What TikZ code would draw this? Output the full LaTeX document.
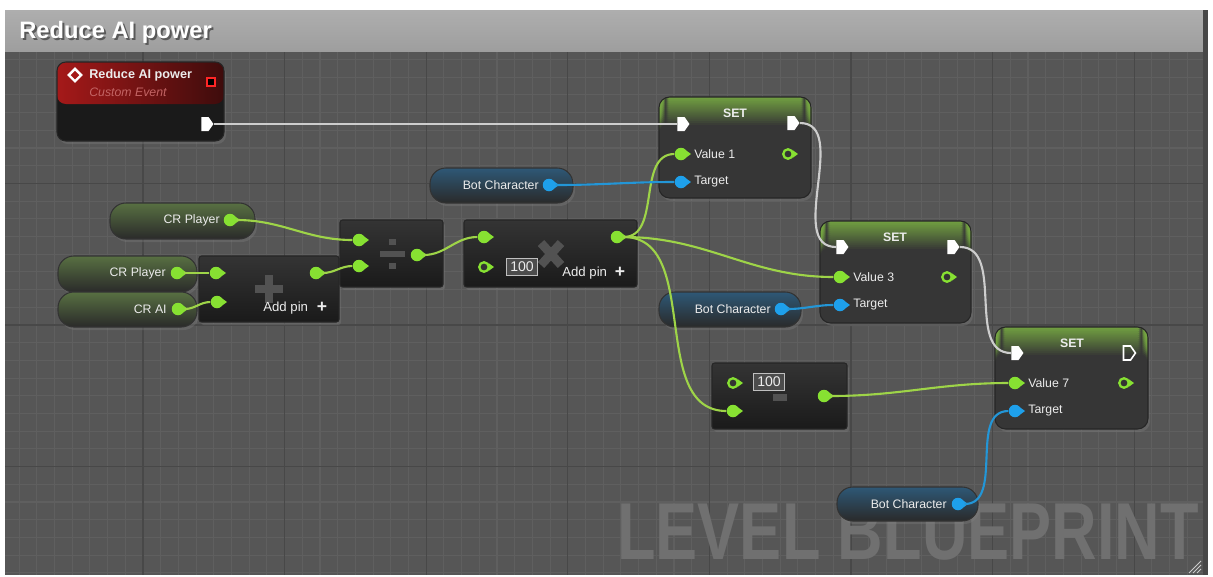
\documentclass[tikz,border=0pt]{standalone}
\usepackage{fontspec}
\setmainfont{Liberation Sans}
\newfontfamily\markfont[FakeStretch=0.78]{Liberation Sans}
\usepackage{tikz}
\usetikzlibrary{arrows.meta,
positioning,
fit,
shapes.geometric,
shapes.symbols,
shadows,
calc}

\definecolor{gridbg}{RGB}{86,86,86}
\definecolor{gridminor}{RGB}{95,95,95}
\definecolor{gridmajor}{RGB}{72,72,72}
\definecolor{titletop}{RGB}{174,174,174}
\definecolor{titlebot}{RGB}{158,158,158}
\definecolor{fngreen}{RGB}{135,225,50}
\definecolor{wiregreen}{RGB}{158,212,72}
\definecolor{pinblue}{RGB}{30,160,235}
\definecolor{wireblue}{RGB}{35,150,215}
\definecolor{execwire}{RGB}{205,205,205}
\definecolor{nodedark}{RGB}{26,26,26}
\definecolor{nodemid}{RGB}{52,52,52}
\definecolor{setbody}{RGB}{54,54,54}
\definecolor{setgreen}{RGB}{118,168,66}
\definecolor{evred}{RGB}{165,25,25}
\definecolor{evdark}{RGB}{62,12,12}
\definecolor{evtext}{RGB}{195,100,100}
\definecolor{pillgray}{RGB}{42,42,42}
\definecolor{pillgreen}{RGB}{88,112,66}
\definecolor{pillblue}{RGB}{46,88,118}
\definecolor{fnicon}{RGB}{82,82,82}
\definecolor{marktext}{RGB}{112,112,112}
\definecolor{labeltext}{RGB}{236,236,236}

\begin{document}
\begin{tikzpicture}[
x=0.02cm, y=-0.02cm,
fnbox/.style={
rectangle,
inner sep=0,
draw=black!85,
line width=0.6pt,
top color=nodemid,
bottom color=nodedark,
rounded corners=1.5pt,
drop shadow={opacity=0.35, shadow xshift=0.04cm, shadow yshift=-0.06cm}
},
setbox/.style={
rectangle,
inner sep=0,
draw=black!85,
line width=0.6pt,
fill=setbody,
rounded corners=6pt,
drop shadow={opacity=0.35, shadow xshift=0.04cm, shadow yshift=-0.06cm},
path picture={
\foreach \i [evaluate=\i as \op using {0.9-0.064*\i}] in {0,...,13}
\fill[setgreen, opacity=\op]
([yshift={-0.04cm*\i}]path picture bounding box.north west) rectangle
([yshift={-0.04cm*(\i+1)}]path picture bounding box.north east);}
},
evbox/.style={
rectangle,
inner sep=0,
draw=black!85,
line width=0.6pt,
fill=nodedark,
rounded corners=5pt,
drop shadow={opacity=0.35, shadow xshift=0.04cm, shadow yshift=-0.06cm},
path picture={\shade[left color=evred, right color=evdark]
(path picture bounding box.north west) rectangle
([yshift=-0.84cm]path picture bounding box.north east);}
},
pill/.style={
rectangle,
inner sep=0,
draw=black!80,
line width=0.6pt,
rounded corners=9pt,
drop shadow={opacity=0.35, shadow xshift=0.04cm, shadow yshift=-0.06cm}
},
fpill/.style={pill, top color=pillgreen, bottom color=pillgray},
opill/.style={pill, top color=pillblue, bottom color=pillgray},
fpin/.style={circle, fill=fngreen, inner sep=0, minimum size=0.25cm},
hpin/.style={circle, fill=black!80, draw=fngreen, line width=1.3pt, inner sep=0, minimum size=0.19cm},
opin/.style={circle, fill=pinblue, inner sep=0, minimum size=0.25cm},
execpin/.style={signal, signal to=east, signal pointer angle=110, fill=white,
inner sep=0, minimum width=0.24cm, minimum height=0.28cm},
hexec/.style={execpin, fill=none, draw=white, line width=0.9pt},
lbl/.style={font=\fontsize{7}{8}\selectfont, text=labeltext, inner sep=0},
valbox/.style={draw=white!75!black, fill=black!70, line width=0.6pt, inner sep=2.2pt,
font=\fontsize{8}{9}\selectfont, text=labeltext},
gwire/.style={draw=wiregreen, line width=1.2pt},
bwire/.style={draw=wireblue, line width=1.2pt},
ewire/.style={draw=execwire, line width=1.2pt}
]

% Frame and grid
\fill[white] (0,0) rectangle (1213,576);
\useasboundingbox (0,0) rectangle (1213,576);
\fill[gridbg] (5,51) rectangle (1203,575);
\begin{scope}
\clip (5,51) rectangle (1203,575);
\foreach \k in {1,...,67}
\draw[gridminor, line width=0.6pt] ({1.4+17.7*\k},51) -- ({1.4+17.7*\k},575);
\foreach \k in {3,...,32}
\draw[gridminor, line width=0.6pt] (5,{6.4+17.7*\k}) -- (1203,{6.4+17.7*\k});
\foreach \k in {0,...,7}
\draw[gridmajor, line width=0.7pt] ({143+141.6*\k},51) -- ({143+141.6*\k},575);
\foreach \k in {1,2,3}
\draw[gridmajor, line width=0.7pt] (5,{41.8+141.6*\k}) -- (1203,{41.8+141.6*\k});
\end{scope}

% Title bar
\shade[top color=titletop, bottom color=titlebot] (5,10) rectangle (1203,51);
\fill[black!72] (1203,10) rectangle (1208,575);
\node[anchor=west, inner sep=0, font=\bfseries\fontsize{13.5}{14}\selectfont, text=black!65]
(titleshade) at (21,34) {Reduce AI power};
\node[anchor=west, inner sep=0, font=\bfseries\fontsize{13.5}{14}\selectfont, text=white]
(title) at (19,32) {Reduce AI power};
\foreach \d in {4,8,12}
\draw[white!60!gray, line width=0.5pt] ({1201-\d},573) -- (1201,{573-\d});

% Watermark
\node[anchor=south west, inner sep=0, font=\markfont\bfseries\fontsize{46}{46}\selectfont,
text=marktext] (watermark) at (617,561) {LEVEL BLUEPRINT};

% Event
\node[evbox, fit={(57,62) (224,141)}] (event) {};
\node[diamond, draw=white, line width=1.4pt, fill=evred, inner sep=0, minimum size=0.27cm]
(evicon) at (75,75) {};
\node[lbl, anchor=west, font=\bfseries\fontsize{7.2}{8}\selectfont] (evname) at (89,75) {Reduce AI power};
\node[lbl, anchor=west, font=\itshape\fontsize{7}{8}\selectfont, text=evtext] (evkind) at (89,92) {Custom Event};
\node[rectangle, draw=red!85!white, fill=black, line width=1.2pt, inner sep=0, minimum size=0.17cm]
(evdel) at (211,82) {};
\node[execpin] (evout) at (205,124) {};

% Variables
\node[fpill, fit={(110,203) (255,239)}] (crp1) {};
\node[lbl, anchor=east] at (220,220) {CR Player};
\node[fpin] (crp1pin) at (230,220) {};

\node[fpill, fit={(58,256) (197,292)}] (crp2) {};
\node[lbl, anchor=east] at (166,273) {CR Player};
\node[fpin] (crp2pin) at (177,273) {};

\node[fpill, fit={(58,292) (197,327)}] (crai) {};
\node[lbl, anchor=east] at (167,309) {CR AI};
\node[fpin] (craipin) at (178,309) {};

\node[opill, fit={(430,168) (573,203)}] (bot1) {};
\node[lbl, anchor=east] at (539,185) {Bot Character};
\node[opin] (bot1pin) at (549,185) {};

\node[opill, fit={(659,292) (801,327)}] (bot2) {};
\node[lbl, anchor=east] at (771,309) {Bot Character};
\node[opin] (bot2pin) at (781,309) {};

\node[opill, fit={(837,487) (978,521)}] (bot3) {};
\node[lbl, anchor=east] at (947,504) {Bot Character};
\node[opin] (bot3pin) at (958,504) {};

% Math
\node[fnbox, fit={(199,256) (339,322)}] (add) {};
\fill[fnicon] (255,285) rectangle (283,293);
\fill[fnicon] (265,275) rectangle (273,303);
\node[fpin] (addin1) at (216,273) {};
\node[fpin] (addin2) at (217,302) {};
\node[fpin] (addout) at (316,273) {};
\node[lbl, anchor=west, font=\fontsize{7.5}{8}\selectfont] (addpin1) at (263,308) {Add pin};
\node[lbl, font=\bfseries\fontsize{10}{10}\selectfont] (addplus1) at (322,307) {+};

\node[fnbox, fit={(340,220) (443,287)}] (div) {};
\fill[fnicon] (380,251) rectangle (405,257);
\fill[fnicon] (389,239) rectangle (396,245);
\fill[fnicon] (389,263) rectangle (396,269);
\node[fpin] (divin1) at (359,240) {};
\node[fpin] (divin2) at (359,266) {};
\node[fpin] (divout) at (417,255) {};

\node[fnbox, fit={(464,220) (637,287)}] (mul) {};
\draw[fnicon, line width=5pt] (541,243) -- (561,265) (561,243) -- (541,265);
\node[fpin] (mulin1) at (484,237) {};
\node[hpin] (mulin2) at (484,267) {};
\node[valbox] (mulval) at (522,267) {100};
\node[fpin] (mulout) at (617,237) {};
\node[lbl, anchor=west, font=\fontsize{7.5}{8}\selectfont] (addpin2) at (562,273) {Add pin};
\node[lbl, font=\bfseries\fontsize{10}{10}\selectfont] (addplus2) at (620,272) {+};

\node[fnbox, fit={(712,363) (847,429)}] (sub) {};
\fill[fnicon] (773,394) rectangle (787,401);
\node[hpin] (subin1) at (733,383) {};
\node[valbox] (subval) at (769,382) {100};
\node[fpin] (subin2) at (733,411) {};
\node[fpin] (subout) at (824,396) {};

% Setters
\node[setbox, fit={(659,97) (811,198)}] (set1) {};
\node[lbl, font=\bfseries\fontsize{7}{8}\selectfont] at (735,113) {SET};
\node[execpin] (set1in) at (681,124) {};
\node[execpin] (set1out) at (791,123) {};
\node[fpin] (set1val) at (681,154) {};
\node[lbl, anchor=west] at (694,154) {Value 1};
\node[hpin] (set1ret) at (788,154) {};
\node[opin] (set1tgt) at (681,182) {};
\node[lbl, anchor=west] at (694,182) {Target};

\node[setbox, fit={(820,221) (971,323)}] (set2) {};
\node[lbl, font=\bfseries\fontsize{7}{8}\selectfont] at (895,237) {SET};
\node[execpin] (set2in) at (840,247) {};
\node[execpin] (set2out) at (951,247) {};
\node[fpin] (set2val) at (840,277) {};
\node[lbl, anchor=west] at (853,277) {Value 3};
\node[hpin] (set2ret) at (947,277) {};
\node[opin] (set2tgt) at (840,305) {};
\node[lbl, anchor=west] at (853,305) {Target};

\node[setbox, fit={(995,327) (1148,429)}] (set3) {};
\node[lbl, font=\bfseries\fontsize{7}{8}\selectfont] at (1072,343) {SET};
\node[execpin] (set3in) at (1015,353) {};
\node[hexec] (set3out) at (1127,353) {};
\node[fpin] (set3val) at (1015,383) {};
\node[lbl, anchor=west] at (1028,383) {Value 7};
\node[hpin] (set3ret) at (1124,383) {};
\node[opin] (set3tgt) at (1015,411) {};
\node[lbl, anchor=west] at (1028,411) {Target};

% Pin nubs
\foreach \p in {crp1pin,crp2pin,craipin,addin1,addin2,addout,divin1,divin2,divout,
mulin1,mulin2,mulout,subin1,subin2,subout,set1val,set1ret,set2val,set2ret,set3val,set3ret}
\fill[fngreen, shift={(\p.center)}] (4.5,-4) -- (10,0) -- (4.5,4) -- cycle;
\foreach \p in {bot1pin,bot2pin,bot3pin,set1tgt,set2tgt,set3tgt}
\fill[pinblue, shift={(\p.center)}] (4.5,-4) -- (10,0) -- (4.5,4) -- cycle;

% Connections
\draw[ewire] (evout) -- (set1in);
\draw[ewire] (set1out) to[out=0, in=180] (set2in);
\draw[ewire] (set2out) to[out=0, in=180] (set3in);

\draw[gwire] (crp1pin) to[out=0, in=180] (divin1);
\draw[gwire] (crp2pin) to[out=0, in=180] (addin1);
\draw[gwire] (craipin) to[out=0, in=180] (addin2);
\draw[gwire] (addout) to[out=0, in=180] (divin2);
\draw[gwire] (divout) to[out=0, in=180] (mulin1);
\draw[gwire] (mulout) to[out=0, in=180] (set1val);
\draw[gwire] (mulout) to[out=0, in=180] (set2val);
\draw[gwire] (mulout) to[out=0, in=180] (subin2);
\draw[gwire] (subout) to[out=0, in=180] (set3val);

\draw[bwire] (bot1pin) to[out=0, in=180] (set1tgt);
\draw[bwire] (bot2pin) to[out=0, in=180] (set2tgt);
\draw[bwire] (bot3pin) to[out=0, in=180] (set3tgt);

\end{tikzpicture}
\end{document}
